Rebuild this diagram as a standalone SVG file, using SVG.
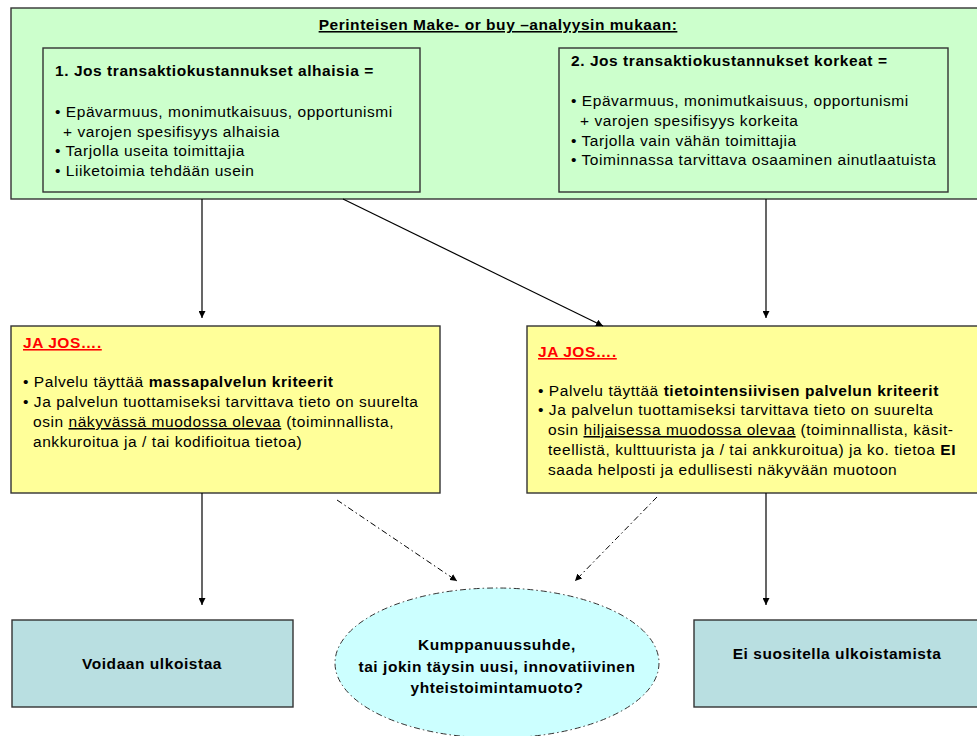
<svg xmlns="http://www.w3.org/2000/svg" width="977" height="736" viewBox="0 0 977 736">
  <defs>
    <style>
      text { font-family: "Liberation Sans", Arial, sans-serif; font-size: 15.5px; letter-spacing: 0.55px; fill: #000; }
      .b { font-weight: bold; }
      .u { text-decoration: underline; }
      .red { fill: #ff0000; font-weight: bold; text-decoration: underline; }
      .mid { text-anchor: middle; }
      .box { stroke: #333; stroke-width: 1.4; }
      .green { fill: #ccffcc; }
      .yellow { fill: #ffff99; }
      .teal { fill: #b9dfe1; }
      .line { fill: none; stroke: #000; stroke-width: 1.2; }
      .dashdot { fill: none; stroke: #000; stroke-width: 1; stroke-dasharray: 6 3 1.5 3; }
    </style>
    <marker id="arrow" viewBox="0 0 10 10" refX="10" refY="5" markerWidth="7" markerHeight="7" markerUnits="userSpaceOnUse" orient="auto">
      <path d="M0,0 L10,5 L0,10 Z" fill="#000"/>
    </marker>
  </defs>

  <!-- Outer frame: make-or-buy analysis -->
  <g id="make-or-buy">
    <rect class="box green" x="11" y="8" width="972" height="191"/>
    <text class="b u mid" x="498" y="30">Perinteisen Make- or buy –analyysin mukaan:</text>
  </g>

  <g id="low-costs">
    <rect class="box green" x="43" y="48" width="377" height="144"/>
    <text class="b" x="55" y="76">1. Jos transaktiokustannukset alhaisia =</text>
    <text x="55" y="117">• Epävarmuus, monimutkaisuus, opportunismi</text>
    <text x="63" y="137">+ varojen spesifisyys alhaisia</text>
    <text x="55" y="156">• Tarjolla useita toimittajia</text>
    <text x="55" y="176">• Liiketoimia tehdään usein</text>
  </g>

  <g id="high-costs">
    <rect class="box green" x="559" y="48" width="389" height="144"/>
    <text class="b" x="571" y="66">2. Jos transaktiokustannukset korkeat =</text>
    <text x="571" y="106">• Epävarmuus, monimutkaisuus, opportunismi</text>
    <text x="580" y="126">+ varojen spesifisyys korkeita</text>
    <text x="571" y="146">• Tarjolla vain vähän toimittajia</text>
    <text x="571" y="165">• Toiminnassa tarvittava osaaminen ainutlaatuista</text>
  </g>

  <g id="mass-service">
    <rect class="box yellow" x="11" y="326" width="429" height="167"/>
    <text class="red" x="23" y="348">JA JOS….</text>
    <text x="23" y="387">• Palvelu täyttää <tspan class="b">massapalvelun kriteerit</tspan></text>
    <text x="23" y="407">• Ja palvelun tuottamiseksi tarvittava tieto on suurelta</text>
    <text x="33" y="427">osin <tspan class="u">näkyvässä muodossa olevaa</tspan> (toiminnallista,</text>
    <text x="33" y="447">ankkuroitua ja / tai kodifioitua tietoa)</text>
  </g>

  <g id="knowledge-service">
    <rect class="box yellow" x="527" y="326" width="456" height="167"/>
    <text class="red" x="538" y="357">JA JOS….</text>
    <text x="538" y="396">• Palvelu täyttää <tspan class="b">tietointensiivisen palvelun kriteerit</tspan></text>
    <text x="538" y="415">• Ja palvelun tuottamiseksi tarvittava tieto on suurelta</text>
    <text x="548" y="435">osin <tspan class="u">hiljaisessa muodossa olevaa</tspan> (toiminnallista, käsit-</text>
    <text x="548" y="455">teellistä, kulttuurista ja / tai ankkuroitua) ja ko. tietoa <tspan class="b">EI</tspan></text>
    <text x="548" y="475">saada helposti ja edullisesti näkyvään muotoon</text>
  </g>

  <g id="outsource">
    <rect class="box teal" x="12" y="620" width="281" height="87"/>
    <text class="b mid" x="152" y="669">Voidaan ulkoistaa</text>
  </g>

  <g id="partnership">
    <ellipse cx="497" cy="663" rx="162" ry="75" fill="#ccffff" stroke="#333" stroke-width="1" stroke-dasharray="6 3 1.5 3"/>
    <text class="b mid" x="497" y="650">Kumppanuussuhde,</text>
    <text class="b mid" x="497" y="672">tai jokin täysin uusi, innovatiivinen</text>
    <text class="b mid" x="497" y="693">yhteistoimintamuoto?</text>
  </g>

  <g id="no-outsource">
    <rect class="box teal" x="694" y="620" width="290" height="87"/>
    <text class="b mid" x="837" y="659">Ei suositella ulkoistamista</text>
  </g>

  <!-- Connectors -->
  <g id="connectors">
    <line class="line" x1="202" y1="199" x2="202" y2="318" marker-end="url(#arrow)"/>
    <line class="line" x1="343" y1="199" x2="603" y2="326" marker-end="url(#arrow)"/>
    <line class="line" x1="766" y1="199" x2="766" y2="318" marker-end="url(#arrow)"/>
    <line class="line" x1="202" y1="493" x2="202" y2="605" marker-end="url(#arrow)"/>
    <line class="line" x1="766" y1="493" x2="766" y2="605" marker-end="url(#arrow)"/>
    <line class="dashdot" x1="337" y1="500" x2="457" y2="581" marker-end="url(#arrow)"/>
    <line class="dashdot" x1="657" y1="497" x2="575" y2="581" marker-end="url(#arrow)"/>
  </g>
</svg>
